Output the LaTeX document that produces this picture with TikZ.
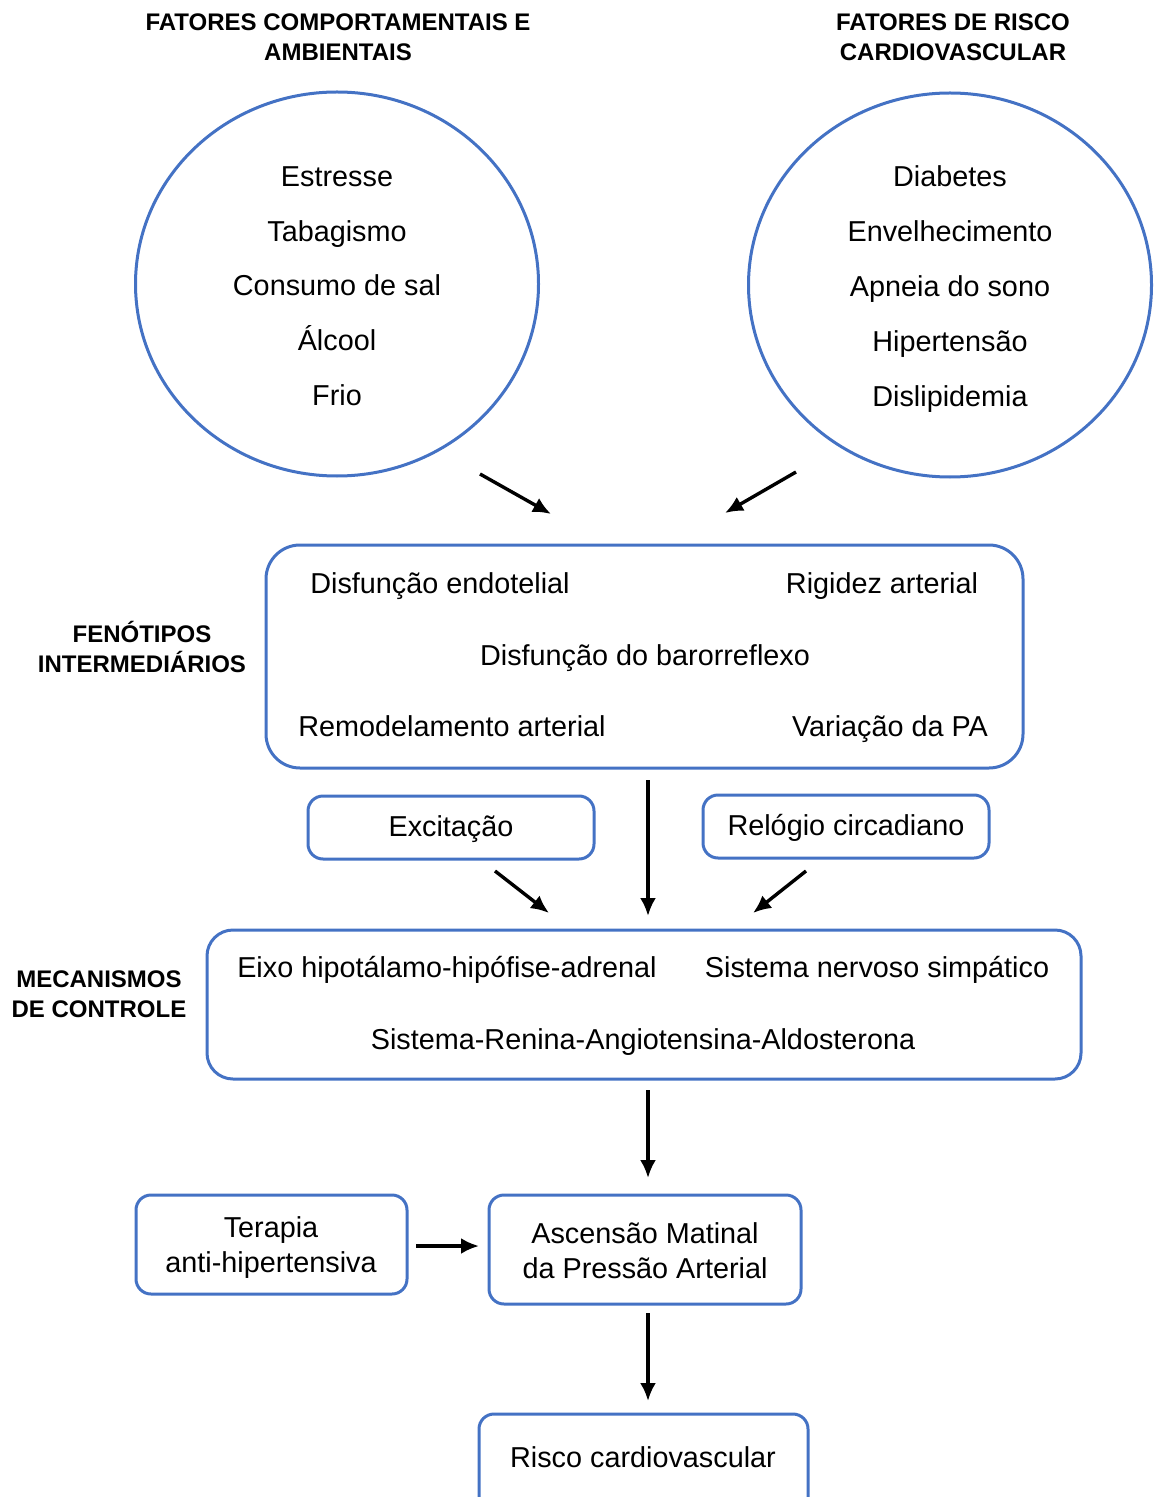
\documentclass[tikz,border=0pt]{standalone}
\usepackage{fontspec}
\setmainfont{Liberation Sans}
\usetikzlibrary{shapes.geometric,fit,arrows.meta}
\definecolor{boxblue}{HTML}{4472C4}
\tikzset{
  px/.style={x=0.5pt,y=-0.5pt},
  txt/.style={font=\fontsize{14.4}{17.5}\selectfont, inner sep=0pt, align=center, text height=10.4pt, text depth=3pt},
  txtm/.style={font=\fontsize{14.4}{17.5}\selectfont, inner sep=0pt, align=center},
  head/.style={font=\fontsize{12}{15}\selectfont\bfseries, inner sep=0pt, align=center},
  bluebox/.style={draw=boxblue, line width=1.5pt, rounded corners=7.5pt, inner sep=0pt},
  bigbox/.style={draw=boxblue, line width=1.5pt, rounded corners=17pt, inner sep=0pt},
  circ/.style={ellipse, draw=boxblue, line width=1.5pt, inner sep=0pt, minimum width=201.5pt, minimum height=192pt},
  arr/.style={line width=1.7pt, -{Latex[length=9pt,width=8pt]}}
}
\begin{document}
\begin{tikzpicture}[px]
\useasboundingbox (0,0) rectangle (1153,1497);
% headings
\node[head] (h1) at (338,37) {FATORES COMPORTAMENTAIS E\\AMBIENTAIS};
\node[head] (h2) at (953,37) {FATORES DE RISCO\\CARDIOVASCULAR};
% circles
\node[circ] (c1) at (337,284) {};
\node[circ] (c2) at (950,285) {};
\node[txt] (c1a) at (337,179) {Estresse};
\node[txt] (c1b) at (337,234) {Tabagismo};
\node[txt] (c1c) at (337,288) {Consumo de sal};
\node[txt] (c1d) at (337,343) {Álcool};
\node[txt] (c1e) at (337,398) {Frio};
\node[txt] (c2a) at (950,179) {Diabetes};
\node[txt] (c2b) at (950,234) {Envelhecimento};
\node[txt] (c2c) at (950,289) {Apneia do sono};
\node[txt] (c2d) at (950,344) {Hipertensão};
\node[txt] (c2e) at (950,399) {Dislipidemia};
% arrows into phenotypes
\coordinate (a1s) at (480,474); \coordinate (a1e) at (551,514);
\coordinate (a2s) at (796,472); \coordinate (a2e) at (725,513);
\draw[arr] (a1s) -- (a1e);
\draw[arr] (a2s) -- (a2e);
% phenotypes box
\node[bigbox, fit={(266,545) (1023,768)}] (fen) {};
\node[head] (fenl) at (142,647) {FENÓTIPOS\\INTERMEDIÁRIOS};
\node[txt] (f1) at (440,586) {Disfunção endotelial};
\node[txt] (f2) at (882,586) {Rigidez arterial};
\node[txt] (f3) at (645,658) {Disfunção do barorreflexo};
\node[txt] (f4) at (452,729) {Remodelamento arterial};
\node[txt] (f5) at (890,729) {Variação da PA};
% small boxes
\node[bluebox, fit={(308,796) (594,859)}] (exc) {};
\node[txt] at ([yshift=-1pt]exc.center) {Excitação};
\node[bluebox, fit={(703,795) (989,858)}] (rel) {};
\node[txt] at ([yshift=-1pt]rel.center) {Relógio circadiano};
% arrows into control
\coordinate (a3s) at (648,780); \coordinate (a3e) at (648,916);
\coordinate (a4s) at (495,871); \coordinate (a4e) at (549,913);
\coordinate (a5s) at (806,871); \coordinate (a5e) at (753,913);
\draw[arr] (a3s) -- (a3e);
\draw[arr] (a4s) -- (a4e);
\draw[arr] (a5s) -- (a5e);
% control box
\node[bigbox, rounded corners=13pt, fit={(207,930) (1081,1079)}] (mec) {};
\node[head] (mecl) at (99,994) {MECANISMOS\\DE CONTROLE};
\node[txt] (m1) at (447,970) {Eixo hipotálamo-hipófise-adrenal};
\node[txt] (m2) at (877,970) {Sistema nervoso simpático};
\node[txt] (m3) at (643,1042) {Sistema-Renina-Angiotensina-Aldosterona};
% arrow down
\coordinate (a6s) at (648,1090); \coordinate (a6e) at (648,1178);
\draw[arr] (a6s) -- (a6e);
% therapy and morning surge
\node[bluebox, fit={(136,1195) (407,1294)}] (ter) {};
\node[txtm] at (271,1248) {Terapia\\anti-hipertensiva};
\node[bluebox, fit={(489,1195) (801,1304)}] (asc) {};
\node[txtm] at (645,1251) {Ascensão Matinal\\da Pressão Arterial};
\coordinate (a7s) at (416,1246); \coordinate (a7e) at (479,1246);
\draw[arr] (a7s) -- (a7e);
\coordinate (a8s) at (648,1313); \coordinate (a8e) at (648,1401);
\draw[arr] (a8s) -- (a8e);
% risk box
\node[bluebox, fit={(479,1414) (808,1540)}] (ris) {};
\node[txt] at (643,1460) {Risco cardiovascular};
\end{tikzpicture}
\end{document}
